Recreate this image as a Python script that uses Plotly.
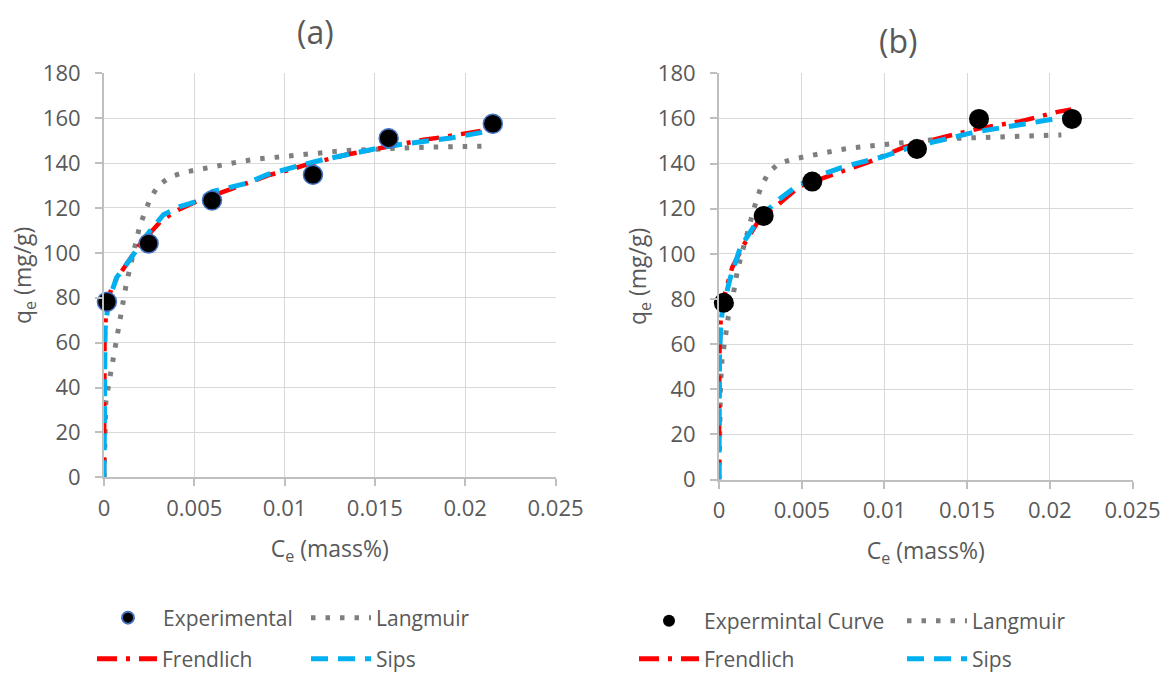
import plotly.graph_objects as go

W, H = 1164, 674

# ---------------- Panel (a) data ----------------
exp_a_x = [0.00016, 0.00247, 0.00598, 0.01157, 0.01576, 0.02153]
exp_a_y = [78.2, 104.2, 123.3, 134.8, 151.1, 157.5]

lang_a_x = [0, 0.00002, 0.00005, 0.0001, 0.00023, 0.00037, 0.0005, 0.00066, 0.00078, 0.00093,
            0.00107, 0.00123, 0.0014, 0.00158, 0.00177, 0.00198, 0.00226, 0.00255, 0.003, 0.0037,
            0.0045, 0.0053, 0.0061, 0.0069, 0.0077, 0.0085, 0.0094, 0.0102, 0.011, 0.0118,
            0.0127, 0.0135, 0.0143, 0.0151, 0.0165, 0.018, 0.0195, 0.0209]
lang_a_y = [0, 12, 25, 33.5, 40, 46.6, 53, 60, 66, 72.6,
            79, 86, 92, 99, 105, 112, 118, 124, 130, 134,
            136, 137.3, 138.6, 139.8, 140.9, 141.8, 142.6, 143.3, 144, 144.6,
            145.1, 145.6, 146, 146.3, 146.7, 147.1, 147.3, 147.5]

fre_a_x = [0, 0.0000005, 0.000005, 0.00003, 0.0001, 0.0002, 0.0005, 0.00116, 0.002, 0.0032,
           0.0041, 0.0051, 0.0072, 0.0092, 0.0103, 0.0112, 0.0134, 0.0155, 0.0177, 0.0187,
           0.0199, 0.0215]
fre_a_y = [0, 28, 45, 60, 72, 79, 86, 94.2, 104, 114.6,
           119.1, 122.8, 128.8, 134.8, 137, 139.3, 143.7, 147, 150.4, 151.5,
           153, 155.2]

sips_a_x = [0, 0.000002, 0.00001, 0.00003, 0.00006, 0.0002, 0.0004, 0.0007, 0.00144, 0.00227,
            0.00329, 0.0042, 0.0051, 0.006, 0.0079, 0.009, 0.0099, 0.011, 0.0121, 0.0149,
            0.0157, 0.0192, 0.0213]
sips_a_y = [0, 25, 45, 57, 66, 75, 82, 89, 97, 107,
            117, 120.6, 122.8, 127.3, 131, 134.8, 137, 139.3, 141.5, 146,
            147.5, 151.2, 154.2]

# ---------------- Panel (b) data ----------------
exp_b_x = [0.00029, 0.0027, 0.00564, 0.01197, 0.01572, 0.02134]
exp_b_y = [78.3, 116.8, 132.0, 146.5, 159.8, 159.8]

lang_b_x = [0, 0.00002, 0.00005, 0.00009, 0.00018, 0.00029, 0.00045, 0.00056, 0.00079, 0.00092,
            0.0011, 0.0013, 0.0015, 0.00175, 0.002, 0.00227, 0.00256, 0.003, 0.0036, 0.0045,
            0.0054, 0.0063, 0.0072, 0.0081, 0.0099, 0.0117, 0.0135, 0.0153, 0.0171, 0.0189,
            0.0207]
lang_b_y = [0, 15, 30, 42, 53, 59, 66, 72, 79, 85,
            92, 98, 104, 111, 117, 124, 130, 136, 140, 142,
            143.4, 144.8, 146, 147, 148.4, 150, 151, 151.4, 151.9, 152.2,
            152.7]

fre_b_x = [0, 0.000001, 0.00002, 0.0001, 0.0003, 0.0008, 0.0015, 0.0025, 0.0036, 0.0049,
           0.0067, 0.0079, 0.009, 0.0103, 0.0112, 0.0135, 0.0157, 0.017, 0.0182, 0.0192,
           0.0204, 0.0213]
fre_b_y = [0, 30, 55, 70, 81, 94, 104, 116, 122, 130,
           134.5, 138, 140.5, 144.5, 147.3, 151.6, 155.5, 157.2, 158.7, 160.5,
           162.8, 164]

sips_b_x = [0, 0.000002, 0.00003, 0.0001, 0.0002, 0.00067, 0.0013, 0.0021, 0.0028, 0.0036,
            0.0047, 0.006, 0.0075, 0.0088, 0.0099, 0.0115, 0.0135, 0.0155, 0.018, 0.02,
            0.0213]
sips_b_y = [0, 30, 55, 67, 75, 89, 103, 112, 118.5, 124,
            130, 134.5, 138.5, 141, 143, 147, 150.5, 154, 157, 159.5,
            161]

x_ticks = [0, 0.005, 0.01, 0.015, 0.02, 0.025]
x_ticktext = ["0", "0.005", "0.01", "0.015", "0.02", "0.025"]
y_ticks = [0, 20, 40, 60, 80, 100, 120, 140, 160, 180]

names_a = ["Experimental", "Langmuir", "Frendlich", "Sips"]
names_b = ["Expermintal Curve", "Langmuir", "Frendlich", "Sips"]

GRAY = "#7F7F7F"
RED = "#FF0000"
BLUE = "#00B0F0"
TXT = "#595959"
FONT = "Open Sans"

fig = go.Figure()

def add_panel(xa, ya, lx, ly, fx, fy, sx, sy, ex, ey, names, legs, border):
    fig.add_trace(go.Scatter(x=lx, y=ly, mode="lines", name=names[1], legend=legs[1],
                             line=dict(color=GRAY, width=5, dash="4.5px,10px"),
                             xaxis=xa, yaxis=ya, cliponaxis=False))
    fig.add_trace(go.Scatter(x=fx, y=fy, mode="lines", name=names[2], legend=legs[2],
                             line=dict(color=RED, width=4.5, dash="20px,9px,4px,9px"),
                             xaxis=xa, yaxis=ya, cliponaxis=False))
    fig.add_trace(go.Scatter(x=sx, y=sy, mode="lines", name=names[3], legend=legs[3],
                             line=dict(color=BLUE, width=5, dash="17px,10px"),
                             xaxis=xa, yaxis=ya, cliponaxis=False))
    mk = dict(color="black", size=19 if border else 20)
    if border:
        mk["line"] = dict(color="#4472C4", width=1.5)
    else:
        mk["line"] = dict(color="black", width=0)
    fig.add_trace(go.Scatter(x=ex, y=ey, mode="markers", name=names[0], legend=legs[0],
                             marker=mk, xaxis=xa, yaxis=ya, cliponaxis=False))

add_panel("x", "y", lang_a_x, lang_a_y, fre_a_x, fre_a_y, sips_a_x, sips_a_y,
          exp_a_x, exp_a_y, names_a, ["legend", "legend2", "legend3", "legend4"], True)
add_panel("x2", "y2", lang_b_x, lang_b_y, fre_b_x, fre_b_y, sips_b_x, sips_b_y,
          exp_b_x, exp_b_y, names_b, ["legend5", "legend6", "legend7", "legend8"], False)

def xaxis(dom, anchor):
    return dict(domain=dom, anchor=anchor, range=[0, 0.025], tickvals=x_ticks, ticktext=x_ticktext,
                showgrid=True, gridcolor="#D9D9D9", gridwidth=1, zeroline=False,
                showline=True, linecolor="#BFBFBF", linewidth=2,
                ticks="outside", ticklen=7, tickcolor="#BFBFBF", tickwidth=1.5,
                tickfont=dict(family=FONT, size=22, color=TXT), ticklabelstandoff=3,
                automargin=False,
                title=dict(text="C<sub>e</sub> (mass%)", font=dict(family=FONT, size=23, color=TXT),
                           standoff=20))

def yaxis(dom, anchor):
    return dict(domain=dom, anchor=anchor, range=[0, 180], tickvals=y_ticks,
                showgrid=True, gridcolor="#D9D9D9", gridwidth=1, zeroline=False,
                showline=True, linecolor="#BFBFBF", linewidth=2,
                ticks="outside", ticklen=7, tickcolor="#BFBFBF", tickwidth=1.5,
                tickfont=dict(family=FONT, size=22, color=TXT), ticklabelstandoff=10,
                automargin=False,
                title=dict(text="q<sub>e</sub> (mg/g)", font=dict(family=FONT, size=23, color=TXT),
                           standoff=5))

IW = 60
legend_text_pos = {
    "legend": (164, 618), "legend2": (377, 618), "legend3": (163, 659), "legend4": (377, 659),
    "legend5": (705, 621), "legend6": (973, 621), "legend7": (705, 659), "legend8": (973, 659),
}

layout = dict(
    width=W, height=H, margin=dict(l=0, r=0, t=0, b=0, autoexpand=False),
    paper_bgcolor="white", plot_bgcolor="white",
    font=dict(family=FONT, color=TXT),
    xaxis=xaxis([104 / W, 555.5 / W], "y"),
    yaxis=yaxis([1 - 477.3 / H, 1 - 73.3 / H], "x"),
    xaxis2=xaxis([719 / W, 1132.5 / W], "y2"),
    yaxis2=yaxis([1 - 479.5 / H, 1 - 73.3 / H], "x2"),
    annotations=[
        dict(text="(a)", x=315 / W, y=1 - 32 / H, xref="paper", yref="paper", showarrow=False,
             font=dict(family=FONT, size=32, color=TXT), xanchor="center", yanchor="middle"),
        dict(text="(b)", x=898 / W, y=1 - 40 / H, xref="paper", yref="paper", showarrow=False,
             font=dict(family=FONT, size=32, color=TXT), xanchor="center", yanchor="middle"),
    ],
    showlegend=True,
)
for k, (px, py) in legend_text_pos.items():
    layout[k] = dict(x=(px - IW - 11) / W, y=1 - py / H, xref="paper", yref="paper",
                     xanchor="left", yanchor="middle", orientation="h", itemwidth=IW,
                     bgcolor="rgba(0,0,0,0)", borderwidth=0, itemsizing="constant",
                     font=dict(family=FONT, size=21, color=TXT))

fig.update_layout(**layout)
fig.write_html("out.html")
